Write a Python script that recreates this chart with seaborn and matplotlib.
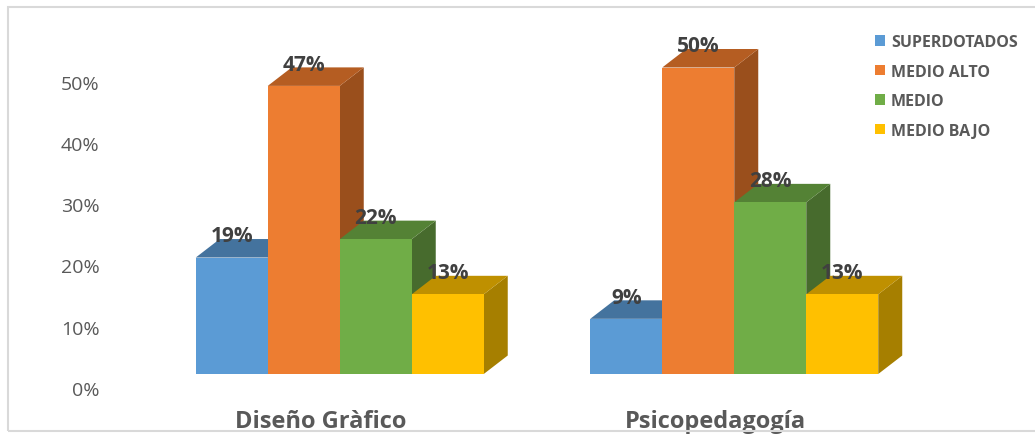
import matplotlib
matplotlib.use("Agg")
import matplotlib.pyplot as plt
from matplotlib.patches import Polygon, Rectangle
import matplotlib.transforms as mtrans
import seaborn as sns
import pandas as pd

categories = ["Diseño Gràfico", "Psicopedagogía"]
levels = ["SUPERDOTADOS", "MEDIO ALTO", "MEDIO", "MEDIO BAJO"]
superdotados = [0.19, 0.09]
medio_alto = [0.47, 0.50]
medio = [0.22, 0.28]
medio_bajo = [0.13, 0.13]
y_ticks = [0.0, 0.1, 0.2, 0.3, 0.4, 0.5]

front_colors = ["#5B9BD5", "#ED7D31", "#70AD47", "#FFC000"]
top_colors = ["#44739E", "#B55D22", "#548235", "#BF9000"]
side_colors = ["#3A6590", "#9A4F1C", "#476B2D", "#A67F00"]

rows = []
for lvl, vals in zip(levels, [superdotados, medio_alto, medio, medio_bajo]):
    for cat, v in zip(categories, vals):
        rows.append({"cat": cat, "lvl": lvl, "val": v})
df = pd.DataFrame(rows)

sns.set_theme(style="white")
plt.rcParams["font.family"] = ["Open Sans", "DejaVu Sans"]

W, H = 1035, 435
fig = plt.figure(figsize=(W / 100, H / 100), dpi=100)
fig.patch.set_facecolor("white")

ax_left_px, ax_right_px = 142.5, 931.5
base_px, ax_bottom_px, ax_top_px = 375.0, 395.0, 30.0
px_per_unit = 613.0
ymin = (base_px - ax_bottom_px) / px_per_unit
ymax = (base_px - ax_top_px) / px_per_unit
ax = fig.add_axes([ax_left_px / W, 1 - ax_bottom_px / H,
                   (ax_right_px - ax_left_px) / W, (ax_bottom_px - ax_top_px) / H])

sns.barplot(data=df, x="cat", y="val", hue="lvl", order=categories,
            hue_order=levels, palette=front_colors, width=0.73,
            saturation=1, ax=ax, legend=False, linewidth=0)
ax.set_xlim(-0.5, 1.5)
ax.set_ylim(ymin, ymax)

x_unit_px = (ax_right_px - ax_left_px) / 2.0
dx = 24.0 / x_unit_px
dy = 18.5 / px_per_unit

bars = [p for p in ax.patches if isinstance(p, Rectangle) and p.get_width() > 0]
bars_sorted = sorted(bars, key=lambda p: p.get_x())
n_per_group = len(levels)
for idx, p in enumerate(bars_sorted):
    rank = idx % n_per_group
    x, w, h = p.get_x(), p.get_width(), p.get_height()
    p.set_zorder(3 + 2 * rank)
    top = Polygon([(x, h), (x + dx, h + dy), (x + w + dx, h + dy), (x + w, h)],
                  closed=True, facecolor=top_colors[rank], edgecolor="none",
                  zorder=2 + 2 * rank)
    side = Polygon([(x + w, 0), (x + w + dx, dy), (x + w + dx, h + dy), (x + w, h)],
                   closed=True, facecolor=side_colors[rank], edgecolor="none",
                   zorder=2 + 2 * rank)
    ax.add_patch(side)
    ax.add_patch(top)
    ax.text(x + w / 2, h + dy - 0.004, f"{h * 100:.0f}%", ha="center", va="baseline",
            fontsize=15, fontweight="bold", color="#404040", zorder=20)

tick_off = (base_px - 389.0) / px_per_unit
ax.set_yticks([t + tick_off for t in y_ticks])
ax.set_yticklabels([f"{t * 100:.0f}%" for t in y_ticks])
ax.tick_params(axis="y", labelsize=14, labelcolor="#595959", length=0, pad=31)
ax.tick_params(axis="x", labelsize=17, labelcolor="#595959", length=0, pad=0)
ax.set_xlabel("")
ax.set_ylabel("")
for s in ax.spines.values():
    s.set_visible(False)
ax.patch.set_alpha(0)

offset = mtrans.ScaledTranslation(-19 / 100, -33 / 100, fig.dpi_scale_trans)
for lab in ax.get_xticklabels():
    lab.set_fontweight("bold")
    lab.set_verticalalignment("baseline")
    lab.set_transform(lab.get_transform() + offset)

handles = [Rectangle((0, 0), 1, 1, facecolor=c, edgecolor="none") for c in front_colors]
leg = fig.legend(handles, levels, loc="upper left",
                 bbox_to_anchor=(875 / W, 1 - 35 / H), frameon=False,
                 prop={"weight": "bold", "size": 11.5}, handlelength=0.65,
                 handleheight=0.65, handletextpad=0.35, labelspacing=0.85,
                 borderaxespad=0, borderpad=0)
for t in leg.get_texts():
    t.set_color("#595959")

fig.add_artist(Rectangle((8 / W, 3 / H), 1.2, 1 - 11 / H, transform=fig.transFigure,
                         fill=False, edgecolor="#D9D9D9", linewidth=1.5))

fig.savefig("out.png", dpi=100, facecolor="white")
